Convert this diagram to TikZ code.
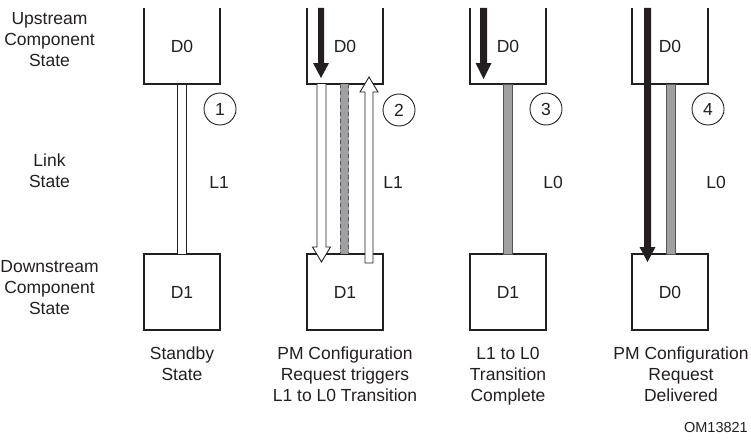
\documentclass[tikz,border=0pt]{standalone}
\usepackage{fontspec}
\setmainfont{Liberation Sans}
\usetikzlibrary{arrows.meta}
\definecolor{ink}{HTML}{231F20}
\definecolor{linkgray}{HTML}{A0A0A2}
\definecolor{linkedge}{HTML}{555557}
\begin{document}
\begin{tikzpicture}[x=1pt,y=-1pt,
  lbl/.style={font=\fontsize{17.5}{21}\selectfont, text=ink, align=center, inner sep=0pt},
  boxnode/.style={minimum width=76pt, minimum height=76pt, inner sep=0pt, font=\fontsize{17.5}{21}\selectfont, text=ink},
  boxline/.style={draw=ink, line width=1.8pt},
  numcirc/.style={circle, draw=ink, line width=0.9pt, minimum size=32pt, inner sep=0pt, font=\fontsize{17.5}{21}\selectfont, text=ink},
  whitelink/.style={fill=white, draw=ink, line width=0.9pt},
  graylink/.style={fill=linkgray, draw=linkedge, line width=0.9pt},
  blackarrow/.style={fill=ink, draw=none},
  hollowarrow/.style={fill=white, draw=ink, line width=0.9pt, line join=miter}
]
\useasboundingbox (0,0) rectangle (751,444);

% left side labels
\node[lbl] (up) at (49.5,40) {Upstream\\Component\\State};
\node[lbl] (ls) at (49.5,171) {Link\\State};
\node[lbl] (dn) at (49.5,288) {Downstream\\Component\\State};

% ---------- Panel 1 ----------
\node[boxnode] (u1) at (182,46) {D0};
\node[boxnode] (d1) at (182,292) {D1};
\draw[boxline] (u1.north west) -- (u1.south west) -- (u1.south east) -- (u1.north east);
\draw[boxline] (d1.north west) rectangle (d1.south east);
\draw[whitelink] (177,84) rectangle (186,254);
\node[numcirc] (c1) at (220,109) {1};
\node[lbl] (l1) at (219,182) {L1};
\node[lbl, anchor=north] (t1) at (182,347) {Standby\\State};

% ---------- Panel 2 ----------
\node[boxnode] (u2) at (345,46) {D0};
\node[boxnode] (d2) at (345,292) {D1};
\draw[boxline] (u2.north west) -- (u2.south west) -- (u2.south east) -- (u2.north east);
\draw[boxline] (d2.north west) rectangle (d2.south east);
\fill[linkgray] (340,84) rectangle (349,254);
\draw[linkedge, line width=1pt, dash pattern=on 4pt off 3pt] (340.5,84) -- (340.5,254) (348.5,84) -- (348.5,254);
% hollow down arrow
\draw[hollowarrow] (317,84) -- (317,247) -- (312.5,247) -- (321.5,262) -- (330.5,247) -- (326,247) -- (326,84);
% black down arrow
\fill[blackarrow] (318,8) -- (318,63) -- (313,63) -- (321,78) -- (329,63) -- (324,63) -- (324,8) -- cycle;
% hollow up arrow
\draw[hollowarrow] (365,263) -- (365,92) -- (360,92) -- (369,77) -- (378,92) -- (373,92) -- (373,263) -- cycle;
\node[numcirc] (c2) at (399,110) {2};
\node[lbl] (l2) at (393,182) {L1};
\node[lbl, anchor=north] (t2) at (345,347) {PM Configuration\\Request triggers\\L1 to L0 Transition};

% ---------- Panel 3 ----------
\node[boxnode] (u3) at (508,46) {D0};
\node[boxnode] (d3) at (508,292) {D1};
\draw[boxline] (u3.north west) -- (u3.south west) -- (u3.south east) -- (u3.north east);
\draw[boxline] (d3.north west) rectangle (d3.south east);
\draw[graylink] (503,84) rectangle (512,254);
\fill[blackarrow] (480,8) -- (480,63) -- (475.5,63) -- (483.5,79) -- (491.5,63) -- (487,63) -- (487,8) -- cycle;
\node[numcirc] (c3) at (546,109) {3};
\node[lbl] (l3) at (553,182) {L0};
\node[lbl, anchor=north] (t3) at (508,347) {L1 to L0\\Transition\\Complete};

% ---------- Panel 4 ----------
\node[boxnode] (u4) at (670,46) {D0};
\node[boxnode] (d4) at (670,292) {D0};
\draw[boxline] (u4.north west) -- (u4.south west) -- (u4.south east) -- (u4.north east);
\draw[boxline] (d4.north west) rectangle (d4.south east);
\draw[graylink] (666,84) rectangle (675,254);
\fill[blackarrow] (644,8) -- (644,247) -- (639.5,247) -- (647.5,262) -- (655.5,247) -- (651,247) -- (651,8) -- cycle;
\node[numcirc] (c4) at (708,109) {4};
\node[lbl] (l4) at (716,182) {L0};
\node[lbl, anchor=north] (t4) at (681,347) {PM Configuration\\Request\\Delivered};

% figure id
\node[lbl, font=\fontsize{14.5}{17}\selectfont, anchor=east] (om) at (748,428) {OM13821};
\end{tikzpicture}
\end{document}
